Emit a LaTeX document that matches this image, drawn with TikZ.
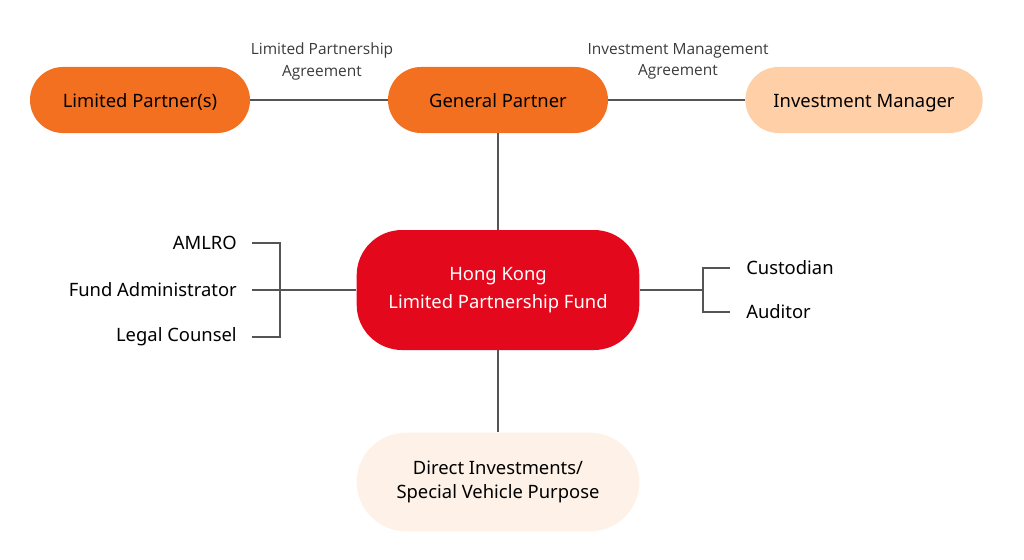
\documentclass[tikz,border=0pt]{standalone}
\usepackage{fontspec}
\setmainfont{Noto Sans}
\newfontfamily\notefont{Open Sans}
\usepackage{xcolor}
\usetikzlibrary{positioning,calc}
\definecolor{lporange}{HTML}{F37021}
\definecolor{impeach}{HTML}{FFD0A8}
\definecolor{fundred}{HTML}{E3081C}
\definecolor{dipale}{HTML}{FEF1E7}
\definecolor{ln}{HTML}{555555}
\definecolor{notegray}{HTML}{3A3A3A}

\begin{document}
\begin{tikzpicture}[x=0.75pt, y=-0.75pt,
    every node/.style={font=\fontsize{13.8}{17.5}\selectfont, align=center},
    pill/.style={rounded corners=24.75pt, minimum width=165pt, minimum height=49.5pt,
                 inner sep=0pt, text height=11pt, text depth=0pt},
    bigpill/.style={rounded corners=34pt, minimum width=212pt, minimum height=90pt, inner sep=0pt},
    agr/.style={font=\notefont\fontsize{11.6}{15.8}\selectfont, text=notegray},
    item/.style={inner sep=0pt},
    ln/.style={draw=ln, line width=0.8pt}
  ]
  \useasboundingbox (0,0) rectangle (1024,560);

  % ---- ligne du haut : partenaires et gerant ----------------------------
  \node[pill, fill=lporange] (lp) at (140,100) {Limited Partner(s)};
  \node[pill, fill=lporange] (gp) at (498,100) {General Partner};
  \node[pill, fill=impeach, minimum width=178pt] (im) at (864,100) {Investment Manager};

  \node[agr] (lpa) at (322,61.5) {Limited Partnership\\Agreement};
  \node[agr] (ima) at (678,61.5) {Investment Management\\Agreement};

  \draw[ln] (lp) -- (gp);
  \draw[ln] (gp) -- (im);

  % ---- le fonds et ses investissements ---------------------------------
  \node[bigpill, fill=fundred, text=white, font=\fontsize{13.8}{21}\selectfont] (fund) at (498,290)
    {Hong Kong\\Limited Partnership Fund};
  \node[bigpill, fill=dipale, minimum height=74pt, rounded corners=37pt] (di) at (498,482)
    {Direct Investments/\\Special Vehicle Purpose};

  \draw[ln] (gp) -- (fund);
  \draw[ln] (fund) -- (di);

  % ---- prestataires a gauche -------------------------------------------
  \node[item, anchor=east] (aml) at (237,243) {AMLRO};
  \node[item, anchor=east] (fa)  at (237,290) {Fund Administrator};
  \node[item, anchor=east] (lc)  at (237,337) {Legal Counsel};

  \coordinate (lt) at (280,243);
  \coordinate (lb) at (280,337);

  \draw[ln] ([xshift=11.25pt]aml.east) -- (lt) -- (lb) -- ([xshift=11.25pt]lc.east);
  \draw[ln] ([xshift=11.25pt]fa.east) -- (fa.east -| fund.west);

  % ---- prestataires a droite -------------------------------------------
  \node[item, anchor=west] (cu) at (746,268) {Custodian};
  \node[item, anchor=west] (au) at (746,312) {Auditor};

  \coordinate (rm) at (703,290);
  \coordinate (rt) at (703,268);
  \coordinate (rb) at (703,312);

  \draw[ln] (fund.east) -- (rm);
  \draw[ln] ([xshift=-12pt]cu.west) -- (rt) -- (rb) -- ([xshift=-12pt]au.west);

\end{tikzpicture}
\end{document}
